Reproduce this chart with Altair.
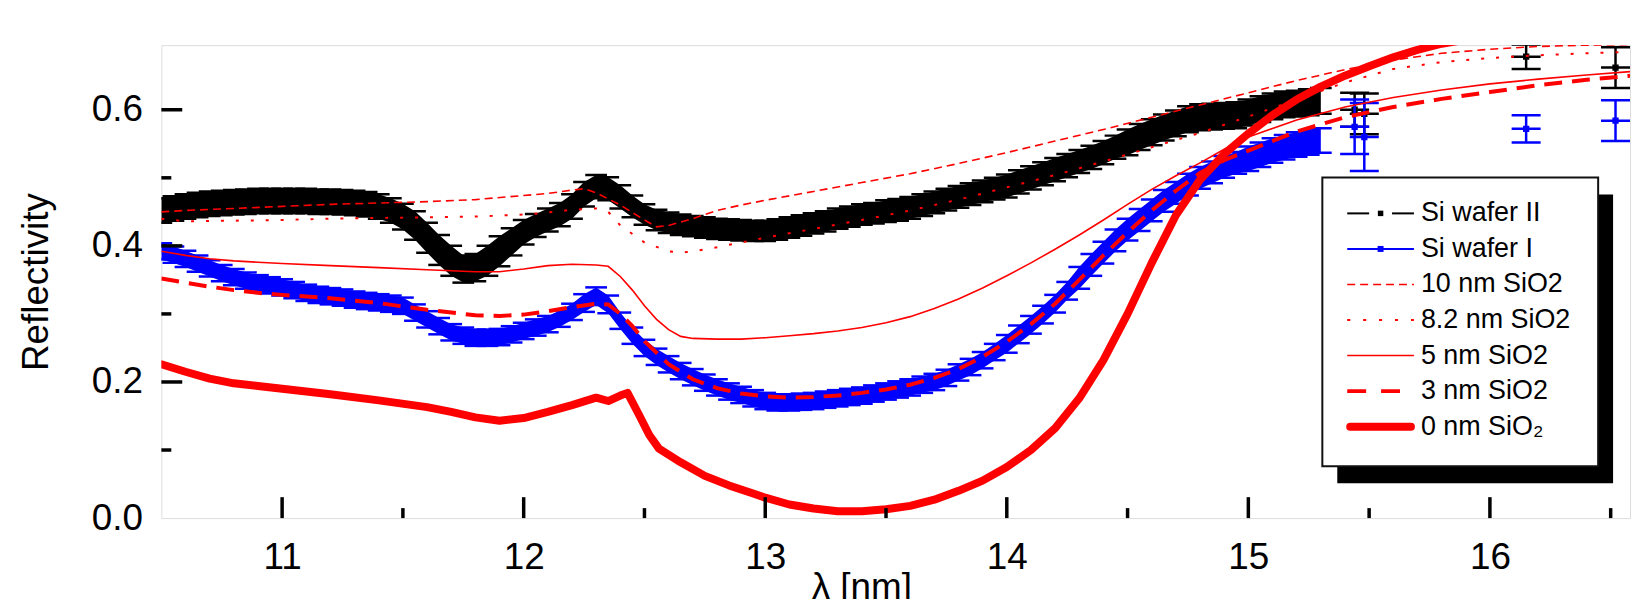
import altair as alt
import pandas as pd

FONT = "Liberation Sans, Arial, Helvetica, sans-serif"

# ---------------- data ----------------
x_ticks_major = [11, 12, 13, 14, 15, 16]
x_ticks_minor = [11.5, 12.5, 13.5, 14.5, 15.5, 16.5]
y_ticks_major = [0.0, 0.2, 0.4, 0.6]
y_ticks_minor = [0.1, 0.3, 0.5]

legend_labels = ["Si wafer II", "Si wafer I", "10 nm SiO2", "8.2 nm SiO2",
                 "5 nm SiO2", "3 nm SiO2", "0 nm SiO\u2082"]

wafer_x = [10.50, 10.55, 10.60, 10.65, 10.70, 10.75, 10.80, 10.85, 10.90, 10.95,
           11.00, 11.05, 11.10, 11.15, 11.20, 11.25, 11.30, 11.35, 11.40, 11.45,
           11.50, 11.55, 11.60, 11.65, 11.70, 11.75, 11.80, 11.85, 11.90, 11.95,
           12.00, 12.05, 12.10, 12.15, 12.20, 12.25, 12.30, 12.35, 12.40, 12.45,
           12.50, 12.55, 12.60, 12.65, 12.70, 12.75, 12.80, 12.85, 12.90, 12.95,
           13.00, 13.05, 13.10, 13.15, 13.20, 13.25, 13.30, 13.35, 13.40, 13.45,
           13.50, 13.55, 13.60, 13.65, 13.70, 13.75, 13.80, 13.85, 13.90, 13.95,
           14.00, 14.05, 14.10, 14.15, 14.20, 14.25, 14.30, 14.35, 14.40, 14.45,
           14.50, 14.55, 14.60, 14.65, 14.70, 14.75, 14.80, 14.85, 14.90, 14.95,
           15.00, 15.05, 15.10, 15.15, 15.20, 15.25, 15.30]

# Si wafer II (black)
wafer2_y = [0.452, 0.455, 0.458, 0.460, 0.462, 0.463, 0.464, 0.465, 0.466, 0.466,
            0.466, 0.466, 0.466, 0.465, 0.465, 0.464, 0.463, 0.461, 0.458, 0.452,
            0.443, 0.430, 0.412, 0.394, 0.378, 0.366, 0.368, 0.378, 0.392, 0.406,
            0.420, 0.430, 0.438, 0.446, 0.458, 0.476, 0.487, 0.484, 0.472, 0.458,
            0.446, 0.438, 0.434, 0.431, 0.429, 0.427, 0.425, 0.424, 0.423, 0.422,
            0.422, 0.424, 0.427, 0.430, 0.433, 0.436, 0.440, 0.443, 0.446, 0.448,
            0.451, 0.453, 0.456, 0.460, 0.464, 0.468, 0.472, 0.476, 0.480, 0.484,
            0.488, 0.494, 0.500, 0.506, 0.512, 0.518, 0.524, 0.530, 0.537, 0.545,
            0.552, 0.560, 0.567, 0.574, 0.580, 0.586, 0.589, 0.590, 0.591, 0.592,
            0.596, 0.601, 0.605, 0.608, 0.609, 0.611, 0.613]
wafer2_err = [0.018, 0.018, 0.018, 0.018, 0.018, 0.018, 0.018, 0.018, 0.018, 0.018,
              0.018, 0.018, 0.018, 0.018, 0.018, 0.018, 0.018, 0.018, 0.018, 0.018,
              0.019, 0.021, 0.022, 0.022, 0.022, 0.020, 0.020, 0.022, 0.022, 0.020,
              0.018, 0.017, 0.017, 0.017, 0.018, 0.018, 0.017, 0.017, 0.017, 0.016,
              0.015, 0.015, 0.015, 0.015, 0.015, 0.015, 0.015, 0.015, 0.015, 0.015,
              0.015, 0.015, 0.015, 0.015, 0.015, 0.015, 0.015, 0.015, 0.015, 0.015,
              0.016, 0.016, 0.016, 0.016, 0.016, 0.016, 0.016, 0.016, 0.016, 0.016,
              0.017, 0.017, 0.017, 0.017, 0.017, 0.017, 0.017, 0.017, 0.017, 0.017,
              0.019, 0.019, 0.019, 0.019, 0.019, 0.019, 0.019, 0.019, 0.019, 0.019,
              0.019, 0.019, 0.019, 0.019, 0.019, 0.019, 0.019]

# Si wafer I (blue)
wafer1_y = [0.392, 0.387, 0.381, 0.374, 0.367, 0.360, 0.354, 0.349, 0.345, 0.342,
            0.339, 0.335, 0.331, 0.328, 0.326, 0.324, 0.321, 0.319, 0.317, 0.315,
            0.312, 0.302, 0.292, 0.282, 0.273, 0.268, 0.265, 0.265, 0.266, 0.270,
            0.275, 0.280, 0.285, 0.293, 0.303, 0.316, 0.326, 0.314, 0.290, 0.268,
            0.250, 0.237, 0.226, 0.216, 0.207, 0.199, 0.192, 0.186, 0.181, 0.176,
            0.172, 0.170, 0.170, 0.171, 0.172, 0.174, 0.176, 0.178, 0.180, 0.183,
            0.186, 0.189, 0.192, 0.196, 0.200, 0.206, 0.214, 0.222, 0.232, 0.244,
            0.256, 0.270, 0.284, 0.299, 0.315, 0.334, 0.353, 0.372, 0.390, 0.408,
            0.424, 0.438, 0.452, 0.466, 0.478, 0.490, 0.500, 0.508, 0.516, 0.522,
            0.528, 0.534, 0.540, 0.545, 0.549, 0.552, 0.555]
wafer1_err = [0.012, 0.012, 0.012, 0.012, 0.012, 0.012, 0.012, 0.012, 0.012, 0.012,
              0.012, 0.012, 0.012, 0.012, 0.012, 0.012, 0.012, 0.012, 0.012, 0.012,
              0.012, 0.012, 0.012, 0.012, 0.012, 0.012, 0.012, 0.012, 0.012, 0.012,
              0.012, 0.012, 0.012, 0.012, 0.012, 0.013, 0.013, 0.013, 0.012, 0.012,
              0.012, 0.012, 0.012, 0.012, 0.012, 0.012, 0.012, 0.012, 0.012, 0.012,
              0.012, 0.012, 0.012, 0.012, 0.012, 0.012, 0.012, 0.012, 0.012, 0.012,
              0.012, 0.012, 0.012, 0.012, 0.012, 0.012, 0.012, 0.012, 0.012, 0.012,
              0.013, 0.013, 0.013, 0.013, 0.013, 0.013, 0.016, 0.016, 0.016, 0.016,
              0.016, 0.016, 0.016, 0.016, 0.016, 0.016, 0.016, 0.016, 0.016, 0.016,
              0.018, 0.018, 0.018, 0.018, 0.018, 0.018, 0.018]

# isolated data points beyond the dense band
wafer2_extra_x = [15.44, 15.48, 16.15, 16.52]
wafer2_extra_y = [0.600, 0.594, 0.678, 0.662]
wafer2_extra_err = [0.025, 0.030, 0.018, 0.030]
wafer1_extra_x = [15.44, 15.48, 16.15, 16.52]
wafer1_extra_y = [0.575, 0.560, 0.572, 0.584]
wafer1_extra_err = [0.040, 0.050, 0.020, 0.030]

# model curves
m10_x = [10.5, 10.6, 10.8, 11.0, 11.2, 11.4, 11.6, 11.8, 12.0, 12.1,
         12.2, 12.25, 12.3, 12.4, 12.5, 12.55, 12.6, 12.7, 12.8, 12.9,
         13.0, 13.2, 13.4, 13.6, 13.8, 14.0, 14.2, 14.4, 14.6, 14.8,
         15.0, 15.2, 15.4, 15.6, 15.8, 16.0, 16.2, 16.4, 16.58]
m10_y = [0.450, 0.452, 0.455, 0.458, 0.461, 0.463, 0.465, 0.468, 0.474, 0.477,
         0.482, 0.484, 0.478, 0.460, 0.438, 0.428, 0.430, 0.440, 0.452, 0.460,
         0.467, 0.480, 0.493, 0.506, 0.521, 0.537, 0.554, 0.571, 0.589, 0.607,
         0.625, 0.643, 0.659, 0.673, 0.683, 0.689, 0.693, 0.695, 0.696]

m82_x = [10.5, 10.6, 10.8, 11.0, 11.2, 11.4, 11.6, 11.8, 12.0, 12.1,
         12.2, 12.3, 12.35, 12.4, 12.5, 12.6, 12.65, 12.7, 12.8, 12.9,
         13.0, 13.2, 13.4, 13.6, 13.8, 14.0, 14.2, 14.4, 14.6, 14.8,
         15.0, 15.2, 15.4, 15.6, 15.8, 16.0, 16.2, 16.4, 16.58]
m82_y = [0.440, 0.436, 0.437, 0.438, 0.440, 0.441, 0.442, 0.443, 0.446, 0.449,
         0.453, 0.455, 0.450, 0.430, 0.405, 0.392, 0.390, 0.392, 0.398, 0.405,
         0.412, 0.425, 0.438, 0.452, 0.468, 0.486, 0.504, 0.524, 0.545, 0.566,
         0.590, 0.615, 0.640, 0.660, 0.670, 0.676, 0.680, 0.683, 0.685]

m5_x = [10.5, 10.6, 10.7, 10.8, 10.9, 11.0, 11.2, 11.4, 11.6, 11.8,
        11.9, 12.0, 12.1, 12.2, 12.3, 12.35, 12.4, 12.45, 12.5, 12.55,
        12.6, 12.65, 12.7, 12.8, 12.9, 13.0, 13.1, 13.2, 13.3, 13.4,
        13.5, 13.6, 13.7, 13.8, 13.9, 14.0, 14.1, 14.2, 14.3, 14.4,
        14.5, 14.6, 14.7, 14.8, 14.9, 15.0, 15.2, 15.4, 15.6, 15.8,
        16.0, 16.2, 16.4, 16.58]
m5_y = [0.392, 0.386, 0.381, 0.378, 0.376, 0.374, 0.371, 0.368, 0.365, 0.362,
        0.362, 0.366, 0.371, 0.373, 0.372, 0.370, 0.355, 0.335, 0.312, 0.292,
        0.277, 0.267, 0.264, 0.263, 0.263, 0.265, 0.268, 0.271, 0.275, 0.280,
        0.287, 0.296, 0.308, 0.322, 0.338, 0.356, 0.375, 0.395, 0.416, 0.438,
        0.461, 0.483, 0.503, 0.522, 0.542, 0.560, 0.585, 0.604, 0.618, 0.629,
        0.638, 0.645, 0.651, 0.656]

m3_x = [10.5, 10.6, 10.7, 10.8, 10.9, 11.0, 11.2, 11.4, 11.6, 11.8,
        11.9, 12.0, 12.1, 12.2, 12.3, 12.35, 12.4, 12.45, 12.5, 12.6,
        12.7, 12.8, 12.9, 13.0, 13.1, 13.2, 13.3, 13.4, 13.5, 13.6,
        13.7, 13.8, 13.9, 14.0, 14.1, 14.2, 14.3, 14.4, 14.5, 14.6,
        14.7, 14.8, 14.9, 15.0, 15.2, 15.4, 15.6, 15.8, 16.0, 16.2,
        16.4, 16.58]
m3_y = [0.352, 0.346, 0.340, 0.335, 0.331, 0.328, 0.323, 0.316, 0.306, 0.298,
        0.297, 0.299, 0.304, 0.310, 0.315, 0.314, 0.300, 0.282, 0.260, 0.226,
        0.204, 0.191, 0.183, 0.179, 0.177, 0.178, 0.180, 0.184, 0.189, 0.196,
        0.206, 0.219, 0.237, 0.259, 0.285, 0.315, 0.350, 0.386, 0.420, 0.452,
        0.481, 0.507, 0.526, 0.540, 0.568, 0.589, 0.604, 0.616, 0.626, 0.636,
        0.644, 0.650]

m0_x = [10.5, 10.6, 10.7, 10.8, 10.9, 11.0, 11.2, 11.4, 11.6, 11.7,
        11.8, 11.9, 12.0, 12.1, 12.2, 12.3, 12.35, 12.4, 12.43, 12.48,
        12.52, 12.56, 12.65, 12.75, 12.85, 12.95, 13.0, 13.1, 13.2, 13.3,
        13.4, 13.5, 13.6, 13.7, 13.8, 13.9, 14.0, 14.1, 14.2, 14.3,
        14.4, 14.5, 14.6, 14.7, 14.8, 14.9, 15.0, 15.1, 15.2, 15.3,
        15.4, 15.5, 15.6, 15.7, 15.8, 15.9, 16.0, 16.2, 16.4, 16.58]
m0_y = [0.226, 0.215, 0.205, 0.198, 0.194, 0.190, 0.182, 0.173, 0.163, 0.156,
        0.148, 0.143, 0.147, 0.156, 0.166, 0.177, 0.172, 0.180, 0.184, 0.150,
        0.122, 0.102, 0.082, 0.062, 0.048, 0.036, 0.030, 0.020, 0.014, 0.010,
        0.010, 0.013, 0.018, 0.027, 0.040, 0.055, 0.075, 0.100, 0.132, 0.176,
        0.232, 0.300, 0.375, 0.445, 0.497, 0.535, 0.565, 0.592, 0.615, 0.634,
        0.650, 0.664, 0.677, 0.688, 0.697, 0.703, 0.708, 0.714, 0.718, 0.720]

# ---------------- layout / style ----------------
W, H = 1475, 475
RED, BLUE, BLACK = "#ff0000", "#0000ff", "#000000"
CAP = 0.045          # error-bar cap half width (nm)
CAP_EXTRA = 0.06

xs = alt.Scale(domain=[10.5, 16.58], nice=False, zero=False)
ys = alt.Scale(domain=[0.0, 0.695], nice=False, zero=False)

xaxis = alt.Axis(values=x_ticks_major, format="d", grid=False, domain=False,
                 ticks=False, tickSize=0, labelPadding=22, labelFlush=False,
                 labelFont=FONT, labelFontSize=37, labelColor=BLACK,
                 title="\u03bb [nm]", titleFont=FONT, titleFontSize=37,
                 titleFontWeight="normal", titleColor=BLACK,
                 titleX=703, titleY=52, titleAlign="center", titleBaseline="top")
yaxis = alt.Axis(values=y_ticks_major, format=".1f", grid=False, domain=False,
                 ticks=False, tickSize=0, labelPadding=19, labelFlush=False,
                 labelFont=FONT, labelFontSize=37, labelColor=BLACK,
                 title="Reflectivity", titleFont=FONT, titleFontSize=37,
                 titleFontWeight="normal", titleColor=BLACK,
                 titleX=-125, titleY=H / 2, titleAngle=270,
                 titleAlign="center", titleBaseline="middle")


def X(f):
    return alt.X(f, type="quantitative", scale=xs, axis=xaxis)


def Y(f):
    return alt.Y(f, type="quantitative", scale=ys, axis=yaxis)


def band(xv, yv, ev, color, cap):
    df = pd.DataFrame({"x": xv, "y": yv, "err": ev})
    df["lo"] = df["y"] - df["err"]
    df["hi"] = df["y"] + df["err"]
    df["xl"] = df["x"] - cap
    df["xr"] = df["x"] + cap
    base = alt.Chart(df)
    area = base.mark_area(color=color, opacity=1, clip=True).encode(
        x=X("x"), y=Y("lo"), y2="hi")
    cap_hi = base.mark_rule(color=color, strokeWidth=2.5, clip=True).encode(
        x=X("xl"), x2="xr", y=Y("hi"))
    cap_lo = base.mark_rule(color=color, strokeWidth=2.5, clip=True).encode(
        x=X("xl"), x2="xr", y=Y("lo"))
    return [area, cap_hi, cap_lo]


def points(xv, yv, ev, color, cap):
    df = pd.DataFrame({"x": xv, "y": yv, "err": ev})
    df["lo"] = df["y"] - df["err"]
    df["hi"] = df["y"] + df["err"]
    df["xl"] = df["x"] - cap
    df["xr"] = df["x"] + cap
    base = alt.Chart(df)
    bar = base.mark_rule(color=color, strokeWidth=2.5, clip=True).encode(
        x=X("x"), y=Y("lo"), y2="hi")
    cap_hi = base.mark_rule(color=color, strokeWidth=2.5, clip=True).encode(
        x=X("xl"), x2="xr", y=Y("hi"))
    cap_lo = base.mark_rule(color=color, strokeWidth=2.5, clip=True).encode(
        x=X("xl"), x2="xr", y=Y("lo"))
    mid = base.mark_rule(color=color, strokeWidth=2.5, clip=True).encode(
        x=X("xl"), x2="xr", y=Y("y"))
    sq = base.mark_square(color=color, size=40, opacity=1, clip=True).encode(
        x=X("x"), y=Y("y"))
    return [bar, cap_hi, cap_lo, mid, sq]


def curve(xv, yv, **style):
    df = pd.DataFrame({"x": xv, "y": yv})
    return alt.Chart(df).mark_line(color=RED, clip=True, **style).encode(
        x=X("x"), y=Y("y"))


layers = []
layers += band(wafer_x, wafer2_y, wafer2_err, BLACK, CAP)
layers += points(wafer2_extra_x, wafer2_extra_y, wafer2_extra_err, BLACK, CAP_EXTRA)
layers += band(wafer_x, wafer1_y, wafer1_err, BLUE, CAP)
layers += points(wafer1_extra_x, wafer1_extra_y, wafer1_extra_err, BLUE, CAP_EXTRA)

layers.append(curve(m10_x, m10_y, strokeWidth=1.6, strokeDash=[8, 5]))
layers.append(curve(m82_x, m82_y, strokeWidth=2, strokeDash=[3, 12]))
layers.append(curve(m5_x, m5_y, strokeWidth=1.6))
layers.append(curve(m3_x, m3_y, strokeWidth=4, strokeDash=[18, 10]))
layers.append(curve(m0_x, m0_y, strokeWidth=8, strokeCap="round", strokeJoin="round"))

# inward ticks
tx_major = pd.DataFrame({"v": x_ticks_major})
tx_minor = pd.DataFrame({"v": x_ticks_minor})
ty_major = pd.DataFrame({"v": y_ticks_major[1:]})
ty_minor = pd.DataFrame({"v": y_ticks_minor})
layers.append(alt.Chart(tx_major).mark_rule(color=BLACK, strokeWidth=3.5).encode(
    x=X("v"), y=alt.value(H), y2=alt.value(H - 21)))
layers.append(alt.Chart(tx_minor).mark_rule(color=BLACK, strokeWidth=3.5).encode(
    x=X("v"), y=alt.value(H), y2=alt.value(H - 10)))
layers.append(alt.Chart(ty_major).mark_rule(color=BLACK, strokeWidth=3.5).encode(
    y=Y("v"), x=alt.value(0), x2=alt.value(21)))
layers.append(alt.Chart(ty_minor).mark_rule(color=BLACK, strokeWidth=3.5).encode(
    y=Y("v"), x=alt.value(0), x2=alt.value(10)))

# legend
one = pd.DataFrame({"k": [0]})
LX0, LX1, LY0, LY1 = 1166, 1443, 133, 423
SH = 15
layers.append(alt.Chart(one).mark_rect(color=BLACK).encode(
    x=alt.value(LX0 + SH), x2=alt.value(LX1 + SH),
    y=alt.value(LY0 + SH + 2), y2=alt.value(LY1 + SH + 2)))
layers.append(alt.Chart(one).mark_rect(fill="white", stroke="#111111", strokeWidth=2).encode(
    x=alt.value(LX0), x2=alt.value(LX1), y=alt.value(LY0), y2=alt.value(LY1)))

SX0, SX1 = 1191, 1258
SXM = (SX0 + SX1) / 2
TX = 1265
ROW0, ROWD = 169, 35.7


def hseg(x0, x1, yy, color, **style):
    return alt.Chart(one).mark_rule(color=color, **style).encode(
        x=alt.value(x0), x2=alt.value(x1), y=alt.value(yy))


for i, lab in enumerate(legend_labels):
    yy = ROW0 + i * ROWD
    if i == 0:
        layers.append(hseg(SX0, SX0 + 22, yy, BLACK, strokeWidth=2))
        layers.append(hseg(SX1 - 22, SX1, yy, BLACK, strokeWidth=2))
        layers.append(alt.Chart(one).mark_square(color=BLACK, size=30, opacity=1).encode(
            x=alt.value(SXM), y=alt.value(yy)))
    elif i == 1:
        layers.append(hseg(SX0, SX1, yy, BLUE, strokeWidth=2))
        layers.append(alt.Chart(one).mark_square(color=BLUE, size=36, opacity=1).encode(
            x=alt.value(SXM), y=alt.value(yy)))
    elif i == 2:
        layers.append(hseg(SX0, SX1, yy, RED, strokeWidth=1.6, strokeDash=[8, 5]))
    elif i == 3:
        layers.append(hseg(SX0, SX1, yy, RED, strokeWidth=2, strokeDash=[3, 13]))
    elif i == 4:
        layers.append(hseg(SX0, SX1, yy, RED, strokeWidth=1.6))
    elif i == 5:
        layers.append(hseg(SX0, SX1, yy, RED, strokeWidth=4, strokeDash=[19, 15]))
    else:
        layers.append(hseg(SX0 + 3, SX1 - 3, yy, RED, strokeWidth=8, strokeCap="round"))
    layers.append(alt.Chart(one).mark_text(
        align="left", baseline="middle", font=FONT, fontSize=27, color=BLACK).encode(
        x=alt.value(TX), y=alt.value(yy), text=alt.value(lab)))

chart = alt.layer(*layers).properties(
    width=W, height=H,
    autosize=alt.AutoSizeParams(type="none"),
    padding={"left": 154, "top": 36, "right": 2, "bottom": 80},
).configure_view(stroke=BLACK, strokeWidth=3.5).configure(background="white")

chart.save("out.html", embed_options={"renderer": "svg", "actions": False})
